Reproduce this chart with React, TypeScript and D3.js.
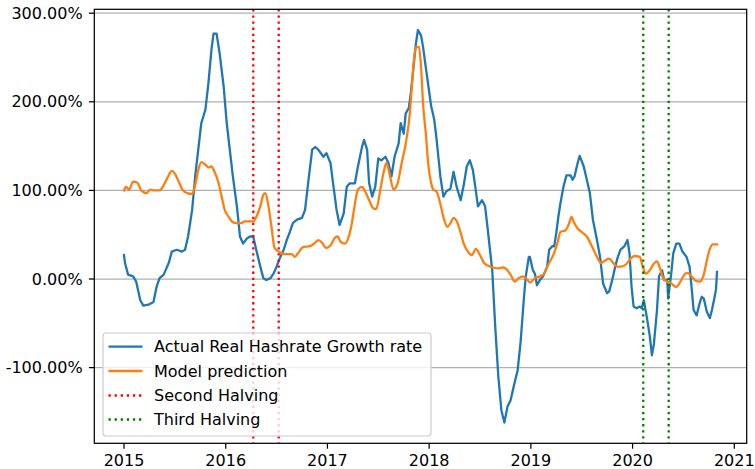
import React from "react";
import * as d3 from "d3";

// ---- Data (decimal years, growth in %) ----
const actualYears = [
  2015.0, 2015.01, 2015.04, 2015.09, 2015.12, 2015.16, 2015.19, 2015.24, 2015.29, 2015.32,
  2015.35, 2015.39, 2015.44, 2015.47, 2015.52, 2015.57, 2015.6, 2015.63, 2015.67, 2015.7,
  2015.73, 2015.76, 2015.8, 2015.83, 2015.86, 2015.88, 2015.91, 2015.94, 2015.98, 2016.01,
  2016.04, 2016.07, 2016.11, 2016.14, 2016.17, 2016.21, 2016.24, 2016.27, 2016.3, 2016.34,
  2016.37, 2016.4, 2016.44, 2016.47, 2016.5, 2016.53, 2016.57, 2016.6, 2016.63, 2016.66,
  2016.7, 2016.75, 2016.78, 2016.81, 2016.85, 2016.88, 2016.91, 2016.96, 2016.99, 2017.03,
  2017.06, 2017.09, 2017.12, 2017.16, 2017.19, 2017.22, 2017.27, 2017.3, 2017.34, 2017.36,
  2017.39, 2017.41, 2017.44, 2017.47, 2017.5, 2017.53, 2017.57, 2017.6, 2017.63, 2017.66,
  2017.7, 2017.72, 2017.75, 2017.77, 2017.8, 2017.82, 2017.84, 2017.87, 2017.89, 2017.92,
  2017.94, 2017.98, 2018.02, 2018.05, 2018.07, 2018.11, 2018.14, 2018.17, 2018.21, 2018.24,
  2018.27, 2018.31, 2018.34, 2018.37, 2018.4, 2018.43, 2018.46, 2018.48, 2018.52, 2018.55,
  2018.58, 2018.62, 2018.65, 2018.68, 2018.71, 2018.74, 2018.77, 2018.8, 2018.83, 2018.87,
  2018.9, 2018.93, 2018.95, 2018.98, 2018.99, 2019.02, 2019.04, 2019.06, 2019.09, 2019.12,
  2019.16, 2019.18, 2019.21, 2019.23, 2019.25, 2019.27, 2019.29, 2019.32, 2019.35, 2019.39,
  2019.41, 2019.43, 2019.46, 2019.48, 2019.52, 2019.55, 2019.58, 2019.61, 2019.65, 2019.68,
  2019.71, 2019.75, 2019.77, 2019.8, 2019.83, 2019.85, 2019.88, 2019.92, 2019.95, 2019.97,
  2019.99, 2020.01, 2020.04, 2020.07, 2020.09, 2020.11, 2020.14, 2020.17, 2020.19, 2020.21,
  2020.24, 2020.26, 2020.29, 2020.31, 2020.34, 2020.35, 2020.38, 2020.4, 2020.43, 2020.46,
  2020.49, 2020.53, 2020.56, 2020.58, 2020.6, 2020.63, 2020.66, 2020.68, 2020.7, 2020.73,
  2020.76, 2020.78, 2020.8, 2020.82, 2020.83,
];
const actualValues = [
  27, 18, 5, 3, -3, -24, -30, -29, -26, -9,
  1, 5, 18, 31, 33, 31, 33, 48, 78, 116,
  146, 176, 191, 221, 259, 277, 277, 255, 217, 176,
  146, 116, 82, 48, 40, 46, 48, 48, 33, 14,
  1, -1, 1, 6, 14, 23, 33, 44, 53, 63,
  67, 69, 78, 108, 146, 149, 146, 138, 142, 131,
  104, 78, 61, 74, 104, 108, 108, 127, 149, 157,
  146, 108, 93, 104, 136, 134, 138, 131, 116, 138,
  153, 176, 164, 187, 193, 210, 232, 266, 281, 275,
  262, 228, 195, 180, 161, 116, 93, 99, 102, 121,
  104, 89, 106, 127, 134, 123, 99, 82, 89, 82,
  52, 10, -54, -110, -148, -162, -144, -137, -122, -103,
  -70, -24, 3, 25, 25, 10, 6, -7, -1, 3,
  14, 33, 37, 37, 52, 70, 85, 104, 117, 117,
  112, 116, 131, 139, 127, 112, 97, 67, 44, 25,
  -5, -16, -14, -1, 14, 23, 33, 37, 44, 29,
  -9, -31, -33, -31, -33, -24, -43, -65, -86, -73,
  -35, 3, 10, -1, -1, -22, 6, 29, 40, 40,
  31, 25, 14, -9, -35, -41, -27, -20, -22, -37,
  -44, -35, -24, -12, 8,
];

const modelYears = [
  2015.0, 2015.02, 2015.05, 2015.09, 2015.13, 2015.17, 2015.22, 2015.26, 2015.3, 2015.35,
  2015.39, 2015.43, 2015.47, 2015.5, 2015.53, 2015.58, 2015.62, 2015.67, 2015.7, 2015.73,
  2015.76, 2015.8, 2015.83, 2015.86, 2015.89, 2015.93, 2015.96, 2015.99, 2016.03, 2016.06,
  2016.1, 2016.15, 2016.19, 2016.23, 2016.27, 2016.3, 2016.34, 2016.37, 2016.39, 2016.42,
  2016.45, 2016.48, 2016.52, 2016.55, 2016.6, 2016.65, 2016.68, 2016.71, 2016.76, 2016.83,
  2016.88, 2016.91, 2016.94, 2016.99, 2017.03, 2017.07, 2017.1, 2017.13, 2017.17, 2017.21,
  2017.24, 2017.27, 2017.3, 2017.34, 2017.37, 2017.41, 2017.45, 2017.48, 2017.52, 2017.55,
  2017.58, 2017.61, 2017.65, 2017.69, 2017.73, 2017.77, 2017.81, 2017.83, 2017.85, 2017.87,
  2017.9, 2017.92, 2017.94, 2017.97, 2017.99, 2018.02, 2018.04, 2018.07, 2018.11, 2018.14,
  2018.18, 2018.21, 2018.24, 2018.28, 2018.31, 2018.34, 2018.38, 2018.42, 2018.46, 2018.5,
  2018.54, 2018.58, 2018.63, 2018.68, 2018.73, 2018.77, 2018.81, 2018.84, 2018.88, 2018.92,
  2018.96, 2018.99, 2019.04, 2019.09, 2019.13, 2019.17, 2019.22, 2019.26, 2019.29, 2019.34,
  2019.37, 2019.4, 2019.42, 2019.46, 2019.5, 2019.55, 2019.6, 2019.65, 2019.69, 2019.73,
  2019.77, 2019.81, 2019.85, 2019.89, 2019.94, 2019.98, 2020.02, 2020.07, 2020.1, 2020.13,
  2020.17, 2020.2, 2020.24, 2020.27, 2020.3, 2020.34, 2020.38, 2020.43, 2020.47, 2020.51,
  2020.54, 2020.58, 2020.62, 2020.66, 2020.7, 2020.73, 2020.76, 2020.79, 2020.83,
];
const modelValues = [
  100, 104, 101, 110, 109, 100, 97, 101, 100, 100,
  106, 115, 122, 119, 112, 100, 97, 96, 106, 123,
  132, 129, 126, 127, 121, 108, 93, 78, 70, 65,
  63, 63, 65, 65, 65, 70, 82, 95, 97, 82,
  59, 35, 31, 29, 28, 28, 25, 29, 36, 37,
  41, 44, 42, 35, 38, 46, 48, 42, 40, 48,
  63, 85, 101, 104, 99, 89, 80, 79, 101, 119,
  131, 119, 101, 108, 131, 153, 187, 217, 247, 262,
  262, 240, 198, 161, 131, 108, 101, 99, 85, 70,
  59, 63, 69, 63, 52, 40, 31, 27, 34, 27,
  18, 15, 13, 12, 13, 10, 3, -3, 1, 3,
  0, -4, 1, 3, 6, 16, 27, 40, 53, 55,
  61, 70, 65, 57, 53, 48, 37, 25, 18, 21,
  23, 18, 14, 14, 17, 23, 26, 25, 14, 6,
  10, 16, 20, 12, 1, -3, -5, -9, -3, 5,
  7, 3, -2, -3, 5, 21, 34, 39, 39,
];

const secondHalving = [2016.271, 2016.521];
const thirdHalving = [2020.105, 2020.355];

const xTicks = [2015, 2016, 2017, 2018, 2019, 2020, 2021];
const yTicks = [-100, 0, 100, 200, 300];

const legendLabels = [
  "Actual Real Hashrate Growth rate",
  "Model prediction",
  "Second Halving",
  "Third Halving",
];

const W = 755;
const H = 469;
const margin = { left: 94.3, right: 8.3, top: 9.3, bottom: 25.7 };
const FONT = "'DejaVu Sans', sans-serif";
const FS = 16;

export default function App() {
  const x = d3
    .scaleLinear()
    .domain([2014.708, 2021.122])
    .range([margin.left, W - margin.right]);
  const y = d3
    .scaleLinear()
    .domain([-185.4, 304.4])
    .range([H - margin.bottom, margin.top]);

  const actual = actualYears.map((t, i) => [t, actualValues[i]] as [number, number]);
  const model = modelYears.map((t, i) => [t, modelValues[i]] as [number, number]);

  const lineLin = d3
    .line<[number, number]>()
    .x((d) => x(d[0]))
    .y((d) => y(d[1]));
  const lineSmooth = d3
    .line<[number, number]>()
    .x((d) => x(d[0]))
    .y((d) => y(d[1]))
    .curve(d3.curveMonotoneX);

  const x0 = margin.left;
  const x1 = W - margin.right;
  const y0 = margin.top;
  const y1 = H - margin.bottom;
  const tickLen = 5.4;
  const lw = 1.24;
  const dotted = "2.3,3.8";

  const legend = { x: 103, y: 333, w: 328, h: 103 };
  const rowY = [346.7, 371, 395.5, 419.5];
  const legendStyles = [
    { stroke: "#1f77b4", dash: undefined },
    { stroke: "#ff7f0e", dash: undefined },
    { stroke: "#ff0000", dash: dotted },
    { stroke: "#008000", dash: dotted },
  ];

  return (
    <svg
      width={W}
      height={H}
      style={{ position: "absolute", left: 0, top: 0, background: "#fff" }}
      fontFamily={FONT}
    >
      <rect x={0} y={0} width={W} height={H} fill="#fff" />
      <defs>
        <clipPath id="plotclip">
          <rect x={x0} y={y0} width={x1 - x0} height={y1 - y0} />
        </clipPath>
      </defs>
      {/* grid */}
      {yTicks.map((v) => (
        <line
          key={"g" + v}
          x1={x0}
          x2={x1}
          y1={y(v)}
          y2={y(v)}
          stroke="#b0b0b0"
          strokeWidth={lw}
        />
      ))}
      <g clipPath="url(#plotclip)">
        <path
          d={lineLin(actual) || ""}
          fill="none"
          stroke="#1f77b4"
          strokeWidth={2.3}
          strokeLinejoin="round"
          strokeLinecap="square"
        />
        <path
          d={lineSmooth(model) || ""}
          fill="none"
          stroke="#ff7f0e"
          strokeWidth={2.3}
          strokeLinejoin="round"
          strokeLinecap="square"
        />
        {secondHalving.map((t) => (
          <line
            key={"s" + t}
            x1={x(t)}
            x2={x(t)}
            y1={y0}
            y2={y1}
            stroke="#ff0000"
            strokeWidth={2.3}
            strokeDasharray={dotted}
          />
        ))}
        {thirdHalving.map((t) => (
          <line
            key={"t" + t}
            x1={x(t)}
            x2={x(t)}
            y1={y0}
            y2={y1}
            stroke="#008000"
            strokeWidth={2.3}
            strokeDasharray={dotted}
          />
        ))}
      </g>
      {/* spines */}
      <rect
        x={x0}
        y={y0}
        width={x1 - x0}
        height={y1 - y0}
        fill="none"
        stroke="#000"
        strokeWidth={lw}
      />
      {/* y ticks */}
      {yTicks.map((v) => (
        <g key={"yt" + v}>
          <line x1={x0 - tickLen} x2={x0} y1={y(v)} y2={y(v)} stroke="#000" strokeWidth={lw} />
          <text
            x={x0 - tickLen - 6.3}
            y={y(v)}
            textAnchor="end"
            dominantBaseline="central"
            fontSize={FS}
            fill="#000"
          >
            {v.toFixed(2) + "%"}
          </text>
        </g>
      ))}
      {/* x ticks */}
      {xTicks.map((t) => (
        <g key={"xt" + t}>
          <line x1={x(t)} x2={x(t)} y1={y1} y2={y1 + tickLen} stroke="#000" strokeWidth={lw} />
          <text x={x(t)} y={y1 + tickLen + 16.8} textAnchor="middle" fontSize={FS} fill="#000">
            {String(t)}
          </text>
        </g>
      ))}
      {/* legend */}
      <rect
        x={legend.x}
        y={legend.y}
        width={legend.w}
        height={legend.h}
        rx={3}
        ry={3}
        fill="#fff"
        fillOpacity={0.8}
        stroke="#cccccc"
        strokeWidth={1.2}
      />
      {legendLabels.map((lab, i) => (
        <g key={lab}>
          <line
            x1={108.5}
            x2={142.5}
            y1={rowY[i]}
            y2={rowY[i]}
            stroke={legendStyles[i].stroke}
            strokeWidth={2.3}
            strokeDasharray={legendStyles[i].dash}
          />
          <text x={154} y={rowY[i]} dominantBaseline="central" fontSize={FS} fill="#000">
            {lab}
          </text>
        </g>
      ))}
    </svg>
  );
}
